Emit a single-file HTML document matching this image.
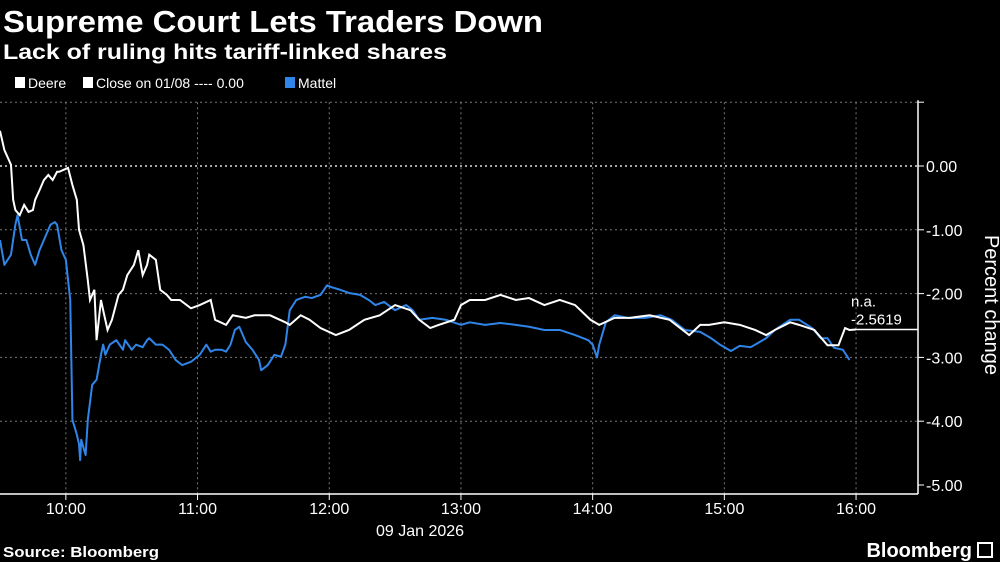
<!DOCTYPE html>
<html><head><meta charset="utf-8"><style>
body{margin:0;background:#000;width:1000px;height:562px;overflow:hidden;font-family:"Liberation Sans",sans-serif;color:#fff}
svg{position:absolute;left:0;top:0}
</style></head><body>
<svg id="c" width="1000" height="562">
<text x="3" y="32" font-size="31" font-weight="bold" fill="#fff" textLength="540" lengthAdjust="spacingAndGlyphs">Supreme Court Lets Traders Down</text>
<text x="3" y="59" font-size="21" font-weight="bold" fill="#fff" textLength="444" lengthAdjust="spacingAndGlyphs">Lack of ruling hits tariff-linked shares</text>
<g font-size="14" fill="#fff">
<g><rect x="15" y="77" width="10" height="11" fill="#fff"/><text x="28" y="88">Deere</text></g>
<g><rect x="83" y="77" width="10" height="11" fill="#fff"/><text x="96" y="88">Close on 01/08 ---- 0.00</text></g>
<g><rect x="285" y="77" width="10" height="11" fill="#2f86e8"/><text x="298" y="88">Mattel</text></g>
</g>
<g id="grid"></g>
<g id="axes"></g>
<g id="series"></g>
<text x="990" y="300" font-size="20" fill="#fff" text-anchor="middle" transform="rotate(90 985 300)">Percent change</text>
<text x="420" y="536" font-size="16" fill="#fff" text-anchor="middle">09 Jan 2026</text>
<text x="3" y="557" font-size="15" font-weight="bold" fill="#fff" textLength="156" lengthAdjust="spacingAndGlyphs">Source: Bloomberg</text>
<text x="972" y="557" font-size="20" font-weight="bold" fill="#fff" text-anchor="end">Bloomberg</text>
<rect x="978" y="543" width="14" height="14" fill="none" stroke="#fff" stroke-width="2"/>
</svg>
<script>
const yTicks=[1,0,-1,-2,-3,-4,-5];
const yTickLabels=["","0.00","-1.00","-2.00","-3.00","-4.00","-5.00"];
const xTicks=[30,90,150,210,270,330,390];
const xTickLabels=["10:00","11:00","12:00","13:00","14:00","15:00","16:00"];
const deereT=[0,2,5,6,7,9,11,13,15,16,18,20,22,24,26,27,29,31,33,35,36,38,40,41,43,44,46,47,49,51,54,56,58,61,63,65,67,68,71,73,76,78,82,87,91,96,98,103,106,112,116,123,130,132,137,141,146,153,159,166,173,180,187,191,196,200,207,210,214,221,228,235,241,248,255,262,269,273,280,287,296,305,314,319,323,330,337,344,349,353,360,364,371,377,382,385,387,390];
const deereV=[0.55,0.25,0.02,-0.53,-0.69,-0.77,-0.61,-0.72,-0.69,-0.53,-0.38,-0.22,-0.14,-0.22,-0.09,-0.09,-0.06,-0.03,-0.30,-0.53,-1.00,-1.24,-1.79,-2.10,-1.94,-2.73,-2.10,-2.26,-2.57,-2.41,-2.02,-1.94,-1.71,-1.55,-1.32,-1.71,-1.55,-1.39,-1.47,-1.94,-2.02,-2.10,-2.10,-2.23,-2.18,-2.10,-2.41,-2.49,-2.34,-2.38,-2.34,-2.34,-2.45,-2.49,-2.34,-2.41,-2.54,-2.65,-2.57,-2.41,-2.34,-2.18,-2.26,-2.41,-2.54,-2.49,-2.41,-2.18,-2.10,-2.10,-2.02,-2.10,-2.07,-2.18,-2.10,-2.18,-2.41,-2.49,-2.38,-2.38,-2.34,-2.41,-2.65,-2.49,-2.49,-2.45,-2.49,-2.57,-2.65,-2.57,-2.45,-2.49,-2.57,-2.81,-2.81,-2.54,-2.57,-2.5619];
const mattelT=[0,2,5,7,8,10,12,14,16,18,21,23,25,26,28,30,32,33,35,36,36.5,37,39,40,42,44,46,47,48,50,53,56,57,60,62,65,67,68,71,74,77,80,83,87,91,94,96,98,101,103,105,107,109,112,115,118,119,122,125,128,130,132,135,139,142,146,149,151,155,159,164,168,171,175,180,185,188,191,197,203,210,214,221,228,235,241,248,255,262,268,270,272,273,276,280,286,294,301,306,312,319,324,328,333,337,342,349,353,360,364,370,374,377,380,384,387];
const mattelV=[-1.16,-1.55,-1.39,-0.92,-0.77,-1.16,-1.16,-1.39,-1.55,-1.32,-1.08,-0.92,-0.88,-0.92,-1.32,-1.47,-2.10,-3.98,-4.21,-4.36,-4.61,-4.29,-4.53,-3.98,-3.43,-3.35,-2.96,-2.80,-2.96,-2.80,-2.73,-2.88,-2.73,-2.88,-2.80,-2.84,-2.73,-2.70,-2.80,-2.80,-2.88,-3.04,-3.12,-3.07,-2.96,-2.80,-2.91,-2.88,-2.88,-2.91,-2.80,-2.57,-2.52,-2.76,-2.88,-3.04,-3.20,-3.12,-2.96,-2.99,-2.80,-2.26,-2.10,-2.05,-2.07,-2.02,-1.87,-1.90,-1.94,-1.99,-2.02,-2.10,-2.18,-2.13,-2.26,-2.18,-2.26,-2.41,-2.38,-2.41,-2.49,-2.45,-2.49,-2.46,-2.49,-2.52,-2.57,-2.57,-2.65,-2.73,-2.80,-3.00,-2.80,-2.45,-2.34,-2.38,-2.38,-2.34,-2.41,-2.57,-2.60,-2.70,-2.80,-2.90,-2.82,-2.84,-2.70,-2.57,-2.41,-2.41,-2.54,-2.70,-2.70,-2.85,-2.88,-3.04];
const lastLabel="-2.5619";
const NS="http://www.w3.org/2000/svg";
const X0=0,XR=918,Y0=166,PPU=63.8,PPM=131.7/60;
const xs=t=>X0+t*PPM, ys=v=>Y0-v*PPU;
function mk(tag,attrs,parent){const e=document.createElementNS(NS,tag);for(const k in attrs)e.setAttribute(k,attrs[k]);parent.appendChild(e);return e;}
const grid=document.getElementById('grid'),axes=document.getElementById('axes'),ser=document.getElementById('series');
yTicks.forEach((v,i)=>{
  const y=ys(v);
  if(v>-5){const g=mk('line',{x1:0,x2:XR,y1:y,y2:y,stroke:v===0?'#ddd':'#777','stroke-width':v===0?1.5:1,'stroke-dasharray':'2,3'},grid);
  
  }
  const tk=mk('line',{x1:XR,x2:XR+6,y1:y,y2:y,stroke:'#fff'},axes);
  
  
  if(yTickLabels[i]){const t=mk('text',{x:XR+8,y:y+6,'font-size':16,fill:'#fff'},axes);t.textContent=yTickLabels[i];
  
  }
});
xTicks.forEach((m,i)=>{
  const x=xs(m);
  const g=mk('line',{x1:x,x2:x,y1:ys(1),y2:494,stroke:'#777','stroke-dasharray':'2,3'},grid);
  
  
  const tk=mk('line',{x1:x,x2:x,y1:494,y2:500,stroke:'#fff'},axes);
  
  
  const t=mk('text',{x:x,y:514,'font-size':16,fill:'#fff','text-anchor':'middle'},axes);t.textContent=xTickLabels[i];
  
  
});
const ya=mk('line',{x1:XR,x2:XR,y1:ys(1.03),y2:494,stroke:'#fff','stroke-width':1.5},axes);


const xa=mk('line',{x1:0,x2:XR,y1:494,y2:494,stroke:'#fff','stroke-width':1.5},axes);


const pm=mk('polyline',{points:mattelT.map((t,i)=>xs(t)+','+ys(mattelV[i])).join(' '),fill:'none',stroke:'#2f86e8','stroke-width':2,'stroke-linejoin':'round'},ser);


const pd=mk('polyline',{points:deereT.map((t,i)=>xs(t)+','+ys(deereV[i])).join(' '),fill:'none',stroke:'#fff','stroke-width':2,'stroke-linejoin':'miter'},ser);


const lx=xs(deereT[deereT.length-1]),ly=ys(deereV[deereV.length-1]);
const al=mk('line',{x1:lx,x2:XR,y1:ly,y2:ly,stroke:'#fff','stroke-width':1.5},ser);


const a1=mk('text',{x:851,y:ly-23,'font-size':15,fill:'#fff'},ser);a1.textContent='n.a.';


const a2=mk('text',{x:851,y:ly-5,'font-size':15,fill:'#fff'},ser);a2.textContent=lastLabel;


</script>
</body></html>
